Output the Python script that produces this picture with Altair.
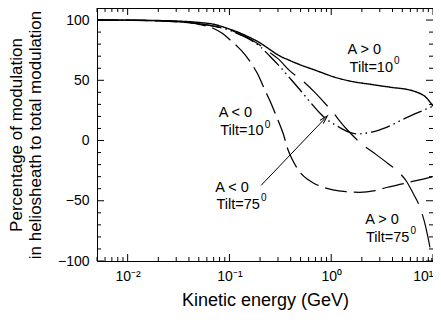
import altair as alt
import pandas as pd

# ---------------- data ----------------
series_names = ["A>0 Tilt=10", "A<0 Tilt=10", "A<0 Tilt=75", "A>0 Tilt=75"]

e_a_pos_10 = [0.005, 0.01, 0.02, 0.03, 0.05, 0.07, 0.1, 0.125, 0.15, 0.2, 0.25, 0.3, 0.39,
              0.49, 0.69, 0.83, 1.0, 1.5, 2.5, 4.0, 5.5, 7.0, 8.5, 10.0]
y_a_pos_10 = [100, 99.9, 99.6, 99.2, 98, 96.5, 92.5, 89.5, 86.5, 81, 75.5, 71, 66.5,
              63, 58.5, 56, 53.5, 49.5, 46.5, 44, 42.5, 40, 36, 28.5]

e_a_neg_10 = [0.005, 0.01, 0.02, 0.03, 0.05, 0.07, 0.1, 0.125, 0.15, 0.2, 0.25, 0.3, 0.4,
              0.5, 0.62, 0.79, 0.89, 1.0, 1.2, 1.5, 1.8, 2.5, 3.5, 5.5, 7.5, 10.0]
y_a_neg_10 = [100, 99.9, 99.4, 98.8, 97, 95, 91.5, 88, 85, 78, 70, 63, 51,
              41.5, 32, 22, 18, 15, 11, 7, 5.5, 7, 11, 19, 24, 28.5]

e_a_neg_75 = [0.005, 0.01, 0.02, 0.03, 0.05, 0.07, 0.085, 0.1, 0.12, 0.14, 0.17, 0.19, 0.22,
              0.25, 0.28, 0.31, 0.34, 0.37, 0.41, 0.49, 0.58, 0.66, 0.85, 1.04, 1.4, 1.9,
              2.7, 3.5, 5.0, 6.3, 8.0, 10.0]
y_a_neg_75 = [100, 99.9, 99.3, 98.5, 96.5, 93, 89, 84, 78, 72, 62, 55, 43,
              33, 23, 14, 5, -6, -15, -26, -32, -35, -39, -41, -42.5, -43,
              -41.5, -39, -36, -34, -32, -30]

e_a_pos_75 = [0.005, 0.01, 0.02, 0.03, 0.05, 0.07, 0.1, 0.125, 0.15, 0.2, 0.25, 0.3, 0.39,
              0.55, 0.69, 1.0, 1.4, 2.0, 2.7, 3.6, 4.7, 5.5, 6.3, 7.4, 8.5, 9.3, 9.8]
y_a_pos_75 = [100, 99.9, 99.4, 98.8, 97, 95, 92, 88.5, 85.5, 79, 73, 68, 58,
              48, 40, 25, 10, -3, -11, -19, -27, -34, -43, -55, -72, -88, -100]

x_major = [0.01, 0.1, 1, 10]
x_minor = [0.005, 0.006, 0.007, 0.008, 0.009,
           0.02, 0.03, 0.04, 0.05, 0.06, 0.07, 0.08, 0.09,
           0.2, 0.3, 0.4, 0.5, 0.6, 0.7, 0.8, 0.9,
           2, 3, 4, 5, 6, 7, 8, 9]
y_major = [-100, -50, 0, 50, 100]
y_minor = [-90, -80, -70, -60, -40, -30, -20, -10, 10, 20, 30, 40, 60, 70, 80, 90, 110]

arrow_e = [0.205, 0.859]
arrow_y = [-37.2, 17.9]

# ---------------- layout ----------------
W, H = 336, 253
FONT = "Liberation Sans"

frames = []
for name, e, y in zip(series_names,
                      [e_a_pos_10, e_a_neg_10, e_a_neg_75, e_a_pos_75],
                      [y_a_pos_10, y_a_neg_10, y_a_neg_75, y_a_pos_75]):
    frames.append(pd.DataFrame({"E": e, "y": y, "series": name}))
df = pd.concat(frames, ignore_index=True)

xscale = alt.Scale(type="log", domain=[0.005, 10], nice=False)
yscale = alt.Scale(domain=[-100, 110], nice=False, zero=False)

label_expr = ("datum.value == 0.01 ? '10⁻²' : datum.value == 0.1 ? '10⁻¹' : "
              "datum.value == 1 ? '10⁰' : '10¹'")

lines = alt.Chart(df).mark_line(color="black", interpolate="monotone", clip=True).encode(
    x=alt.X("E:Q", scale=xscale,
            axis=alt.Axis(values=x_major, labelExpr=label_expr, ticks=False, domain=False,
                          grid=False, labelPadding=8, labelFlush=False, labelOverlap=False,
                          labelAlign={"condition": {"test": "datum.value >= 10", "value": "right"},
                                      "value": "center"},
                          title="Kinetic energy (GeV)", titlePadding=8, titleFontSize=18)),
    y=alt.Y("y:Q", scale=yscale,
            axis=alt.Axis(values=y_major, ticks=False, domain=False, grid=False,
                          labelPadding=8, labelFlush=False,
                          title=["Percentage of modulation", "in heliosheath to total modulation"],
                          titlePadding=13, titleFontSize=17, titleLineHeight=19)),
    strokeDash=alt.StrokeDash("series:N", legend=None,
                              scale=alt.Scale(domain=series_names,
                                              range=[[1, 0], [20, 4, 1.5, 4, 1.5, 4], [22, 7], [34, 11]])),
    strokeWidth=alt.StrokeWidth("series:N", legend=None,
                                scale=alt.Scale(domain=series_names, range=[1.4, 1.2, 1.2, 1.2])),
    detail="series:N",
)

def yticks(vals, length):
    d = pd.DataFrame({"y": vals})
    left = alt.Chart(d).mark_rule(color="black", strokeWidth=1).encode(
        y=alt.Y("y:Q", scale=yscale), x=alt.value(0), x2=alt.value(length))
    right = alt.Chart(d).mark_rule(color="black", strokeWidth=1).encode(
        y=alt.Y("y:Q", scale=yscale), x=alt.value(W - length), x2=alt.value(W))
    return [left, right]

def xticks(vals, length):
    d = pd.DataFrame({"E": vals})
    bottom = alt.Chart(d).mark_rule(color="black", strokeWidth=1).encode(
        x=alt.X("E:Q", scale=xscale), y=alt.value(H - length), y2=alt.value(H))
    top = alt.Chart(d).mark_rule(color="black", strokeWidth=1).encode(
        x=alt.X("E:Q", scale=xscale), y=alt.value(0), y2=alt.value(length))
    return [bottom, top]

tick_layers = yticks(y_major, 7) + yticks(y_minor, 4) + xticks(x_major, 7) + xticks(x_minor, 4)

one = pd.DataFrame({"k": [0]})
annots = []
# (main text, left x, baseline y, superscript)
ann_specs = [
    ("A > 0", 250.6, 45.5, None),
    ("Tilt=10", 252.6, 63.7, "0"),
    ("A < 0", 121.7, 109.2, None),
    ("Tilt=10", 123.3, 127.2, "0"),
    ("A < 0", 118.3, 183.9, None),
    ("Tilt=75", 119.5, 200.5, "0"),
    ("A > 0", 268.3, 215.5, None),
    ("Tilt=75", 269.0, 233.9, "0"),
]
for txt, ax, ay, sup in ann_specs:
    annots.append(alt.Chart(one).mark_text(align="left", baseline="alphabetic", fontSize=14.5,
                                           font=FONT, color="black", x=ax, y=ay, text=txt))
    if sup:
        annots.append(alt.Chart(one).mark_text(align="left", baseline="alphabetic", fontSize=10,
                                               font=FONT, color="black", x=ax + 44.5, y=ay - 7.5,
                                               text=sup))

arrow_df = pd.DataFrame({"E": arrow_e, "y": arrow_y})
arrow_line = alt.Chart(arrow_df).mark_line(color="black", strokeWidth=1).encode(
    x=alt.X("E:Q", scale=xscale), y=alt.Y("y:Q", scale=yscale))
arrow_head = alt.Chart(arrow_df.iloc[[1]]).mark_point(
    shape="M-0.55,1 L0,-1 L0.55,1", filled=False, color="black", strokeWidth=1,
    size=70, angle=43.5, opacity=1).encode(
    x=alt.X("E:Q", scale=xscale), y=alt.Y("y:Q", scale=yscale))

chart = alt.layer(lines, *tick_layers, arrow_line, arrow_head, *annots).properties(
    width=W, height=H,
    autosize=alt.AutoSizeParams(type="none"),
    padding={"left": 89, "top": 0, "right": 0, "bottom": 54},
).configure_view(stroke="black", strokeWidth=1).configure_axis(
    labelFont=FONT, labelFontSize=14, labelColor="black",
    titleFont=FONT, titleFontWeight="normal", titleColor="black",
)

chart.save("out.html", embed_options={"renderer": "svg", "actions": False})
